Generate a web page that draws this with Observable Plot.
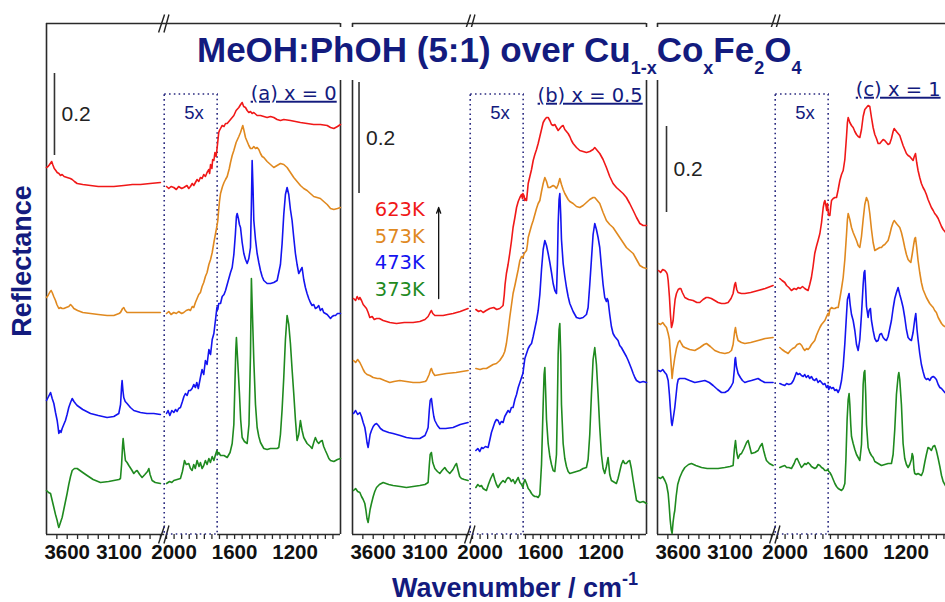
<!DOCTYPE html>
<html><head><meta charset="utf-8">
<script src="https://cdn.jsdelivr.net/npm/d3@7"></script>
<script src="https://cdn.jsdelivr.net/npm/@observablehq/plot@0.6"></script>
<style>
html,body{margin:0;padding:0;overflow:hidden;background:#fff;}
#page{position:relative;width:945px;height:602px;overflow:hidden;font-family:"Liberation Sans",Arial,sans-serif;}
.panel{position:absolute;top:0;}
#titlebg{position:absolute;left:195px;top:27px;width:615px;height:53px;background:#fff;}
#title{position:absolute;left:197px;top:32px;font:bold 35px/35px "Liberation Sans";color:#131b7e;white-space:nowrap;}
#title .sb{font-size:18px;position:relative;top:12px;}
#ylab{position:absolute;left:22px;top:261px;transform:translate(-50%,-50%) rotate(-90deg);font:bold 27px/27px "Liberation Sans";color:#131b7e;white-space:nowrap;}
#xlab{position:absolute;left:392px;top:575px;font:bold 27px/27px "Liberation Sans";color:#131b7e;white-space:nowrap;}
#xlab .sp{font-size:18px;position:relative;top:-12px;}
</style></head>
<body><div id="page"></div>
<script>
// ---------- data (wavenumber cm-1, relative reflectance a.u., offset traces) ----------
const temps = ["623K", "573K", "473K", "373K"];
const lineColors = ["#f01818", "#e0891f", "#1414f0", "#1f8a1f"];
const panelNames = ["(a) x = 0", "(b) x = 0.5", "(c) x = 1"];
const majorTicks = [3600, 3100, 2000, 1600, 1200];
const minorTicksLeft = [3700, 3600, 3500, 3400, 3300, 3200, 3100, 3000, 2900, 2800, 2700];
const minorTicksRight = [2050, 2000, 1950, 1900, 1850, 1800, 1750, 1700, 1650, 1600, 1550, 1500, 1450, 1400, 1350, 1300, 1250, 1200, 1150, 1100, 1050, 1000, 950];
const xBreakDomain = [3800, 2680, 2070, 900];
const zoomBox = [2062, 1712];   // "5x" region
const scaleBarWn = [3723, 3737, 3713];
const scaleBarLo = [379, 341, 322];
const scaleBarHi = [461, 452, 408];

// Panel (a) x = 0
const a623L = [[3800,367],[3785,368],[3770,370],[3750,373],[3740,370],[3725,366],[3710,364],[3697,362],[3680,361],[3665,359],[3649,360],[3630,358],[3601,357],[3570,356],[3552,355],[3530,353],[3504,351],[3450,350],[3375,349],[3300,348],[3215,348],[3150,348],[3054,349],[2970,350],[2893,350],[2800,351],[2700,352]];
const a623R = [[2050,348],[2035,346],[2020,348],[2002,347],[1985,345],[1970,348],[1950,346],[1936,347],[1915,349],[1903,346],[1892,348],[1880,351],[1870,349],[1859,352],[1848,355],[1837,353],[1826,357],[1815,356],[1804,360],[1793,358],[1782,362],[1770,365],[1765,361],[1759,370],[1750,366],[1745,375],[1737,374],[1730,382],[1722,378],[1716,386],[1711,393],[1705,402],[1700,404],[1693,406],[1682,409],[1670,408],[1660,411],[1649,411],[1627,415],[1605,419],[1590,424],[1572,427],[1560,430],[1550,432],[1540,428],[1528,427],[1517,424],[1506,422],[1495,423],[1484,421],[1473,422],[1451,419],[1429,419],[1407,418],[1385,417],[1363,418],[1341,417],[1319,415],[1297,414],[1275,415],[1231,414],[1198,413],[1165,412],[1121,411],[1077,410],[1033,410],[988,409],[966,407],[944,406],[920,408],[900,410]];
const a573L = [[3800,237],[3785,239],[3770,242],[3755,244],[3745,242],[3730,238],[3713,234],[3700,230],[3681,226],[3665,227],[3649,226],[3633,226],[3610,227],[3585,228],[3568,230],[3550,228],[3536,226],[3500,224],[3450,222],[3375,221],[3300,220],[3215,219],[3150,219],[3100,221],[3086,222],[3065,226],[3054,227],[3040,224],[3022,222],[2960,222],[2893,222],[2800,222],[2700,222]];
const a573R = [[2050,221],[2035,223],[2020,220],[2002,222],[1985,221],[1970,223],[1950,221],[1936,222],[1920,224],[1903,225],[1892,224],[1880,228],[1870,227],[1859,232],[1848,236],[1837,240],[1826,242],[1815,248],[1804,252],[1793,258],[1782,262],[1770,270],[1759,275],[1748,282],[1737,292],[1726,301],[1717,308],[1711,314],[1705,325],[1700,333],[1693,341],[1680,348],[1670,352],[1660,355],[1649,358],[1635,366],[1627,372],[1616,379],[1605,384],[1590,392],[1572,398],[1561,402],[1546,409],[1538,404],[1528,397],[1517,393],[1506,389],[1495,386],[1484,386],[1473,388],[1462,386],[1451,387],[1440,385],[1429,381],[1418,378],[1407,377],[1385,373],[1363,370],[1341,367],[1319,369],[1297,371],[1275,370],[1253,367],[1231,362],[1209,357],[1187,353],[1165,349],[1143,346],[1121,344],[1099,341],[1077,338],[1055,337],[1033,336],[1011,333],[988,330],[966,326],[944,325],[920,326],[900,327]];
const a473L = [[3800,134],[3780,138],[3761,142],[3745,136],[3729,131],[3713,122],[3697,114],[3689,108],[3681,101],[3670,104],[3660,102],[3649,106],[3633,110],[3617,114],[3601,120],[3585,127],[3568,132],[3552,136],[3535,133],[3520,131],[3504,129],[3450,125],[3375,121],[3300,119],[3215,117],[3150,118],[3102,121],[3085,130],[3075,148],[3070,154],[3062,144],[3054,137],[3040,133],[3022,131],[2990,127],[2957,124],[2925,123],[2893,122],[2830,121],[2764,121],[2700,120]];
const a473R = [[2050,121],[2040,124],[2028,119],[2015,124],[2002,122],[1990,125],[1980,123],[1970,126],[1958,127],[1945,133],[1935,138],[1925,141],[1914,139],[1903,144],[1892,144],[1881,146],[1870,150],[1859,147],[1850,152],[1840,146],[1826,157],[1815,165],[1804,160],[1793,174],[1782,170],[1770,185],[1759,180],[1748,195],[1737,201],[1726,215],[1717,227],[1711,225],[1705,231],[1693,231],[1682,238],[1670,240],[1660,244],[1649,250],[1638,256],[1627,262],[1616,267],[1605,280],[1595,300],[1588,318],[1583,321],[1575,316],[1568,310],[1561,307],[1550,292],[1539,281],[1528,275],[1517,271],[1506,276],[1495,287],[1489,330],[1484,374],[1478,345],[1473,314],[1462,295],[1451,281],[1440,272],[1429,264],[1418,258],[1407,254],[1385,251],[1363,251],[1341,252],[1319,254],[1297,270],[1286,291],[1275,320],[1264,340],[1253,347],[1242,340],[1231,325],[1220,314],[1209,297],[1198,281],[1187,270],[1176,261],[1165,264],[1154,267],[1143,255],[1132,247],[1121,241],[1110,236],[1099,232],[1088,229],[1077,230],[1066,226],[1055,227],[1044,229],[1033,224],[1021,226],[1011,222],[988,220],[977,218],[966,216],[955,218],[944,219],[933,219],[920,221],[900,221]];
const a373L = [[3800,44],[3780,42],[3761,41],[3745,34],[3729,27],[3713,20],[3697,14],[3689,10],[3681,7],[3665,12],[3649,17],[3633,25],[3617,33],[3601,41],[3585,50],[3568,58],[3552,64],[3530,66],[3504,66],[3450,62],[3408,59],[3350,55],[3279,52],[3200,53],[3150,54],[3100,55],[3086,56],[3075,70],[3066,88],[3060,96],[3050,85],[3038,74],[3022,72],[3005,69],[2980,65],[2957,61],[2940,63],[2925,64],[2900,60],[2877,57],[2850,60],[2825,63],[2812,66],[2800,60],[2780,54],[2750,52],[2700,51]];
const a373R = [[2050,51],[2030,53],[2015,52],[2002,54],[1980,55],[1958,56],[1945,63],[1931,74],[1920,70],[1903,71],[1892,66],[1881,64],[1870,70],[1860,66],[1848,74],[1835,68],[1826,72],[1815,66],[1804,69],[1793,74],[1782,70],[1770,76],[1760,72],[1748,78],[1737,74],[1726,80],[1717,84],[1711,80],[1705,82],[1693,79],[1670,79],[1649,77],[1630,82],[1616,91],[1605,110],[1598,150],[1592,185],[1588,197],[1580,175],[1568,141],[1560,115],[1550,97],[1535,93],[1517,91],[1505,110],[1495,180],[1489,256],[1482,220],[1473,174],[1462,130],[1451,107],[1440,98],[1429,92],[1407,86],[1385,85],[1363,86],[1341,86],[1319,86],[1308,87],[1297,100],[1286,125],[1275,157],[1264,195],[1253,219],[1242,210],[1231,191],[1220,165],[1209,141],[1198,115],[1187,94],[1176,100],[1165,114],[1154,104],[1143,97],[1132,94],[1121,91],[1099,88],[1088,86],[1077,92],[1066,97],[1055,93],[1044,91],[1033,93],[1021,94],[1011,88],[1000,84],[988,80],[977,76],[966,74],[944,73],[920,75],[900,76]];

// Panel (b) x = 0.5
const b623L = [[3790,236],[3770,234],[3755,238],[3740,235],[3729,237],[3713,234],[3697,230],[3681,228],[3665,226],[3649,222],[3633,217],[3610,218],[3590,215],[3568,216],[3540,216],[3504,214],[3440,212],[3375,211],[3300,212],[3215,212],[3150,213],[3100,215],[3070,218],[3050,222],[3038,224],[3025,221],[3005,219],[2960,219],[2925,219],[2880,220],[2829,221],[2760,223],[2684,226]];
const b623R = [[2028,225],[2010,223],[1995,224],[1980,222],[1960,224],[1936,226],[1910,227],[1890,225],[1870,226],[1855,228],[1848,229],[1840,240],[1835,250],[1826,261],[1815,270],[1804,281],[1793,293],[1782,307],[1770,317],[1759,327],[1748,333],[1737,337],[1726,340],[1720,336],[1717,341],[1710,339],[1704,334],[1698,336],[1693,334],[1687,343],[1682,351],[1671,358],[1660,365],[1649,374],[1638,380],[1627,385],[1616,391],[1605,398],[1594,405],[1583,412],[1572,415],[1561,417],[1550,417],[1539,414],[1528,410],[1517,409],[1506,410],[1495,407],[1484,404],[1473,406],[1462,408],[1451,409],[1440,405],[1429,403],[1418,401],[1407,398],[1396,394],[1385,391],[1363,387],[1341,384],[1319,383],[1297,382],[1275,383],[1253,385],[1242,387],[1231,385],[1220,383],[1209,381],[1187,375],[1165,367],[1143,358],[1121,351],[1099,347],[1077,344],[1055,341],[1033,337],[1011,331],[988,324],[966,317],[944,311],[922,309],[900,309]];
const b573L = [[3790,174],[3770,172],[3750,175],[3729,172],[3710,168],[3697,165],[3681,162],[3660,160],[3633,159],[3600,157],[3560,156],[3536,156],[3490,154],[3440,152],[3400,153],[3343,154],[3280,153],[3215,152],[3150,152],[3100,153],[3086,154],[3060,160],[3045,165],[3038,166],[3025,162],[3005,159],[2950,160],[2893,161],[2800,162],[2684,164]];
const b573R = [[2028,166],[2000,165],[1980,166],[1958,166],[1936,168],[1914,170],[1892,171],[1870,174],[1848,179],[1837,183],[1826,191],[1815,203],[1804,217],[1793,229],[1782,241],[1770,249],[1759,257],[1748,265],[1737,274],[1726,278],[1717,277],[1711,280],[1704,282],[1693,284],[1687,290],[1682,297],[1671,303],[1660,309],[1649,314],[1638,320],[1627,326],[1616,331],[1605,334],[1594,343],[1583,351],[1572,357],[1561,353],[1550,347],[1539,347],[1528,348],[1517,349],[1506,348],[1495,346],[1484,350],[1473,356],[1462,350],[1451,345],[1440,341],[1429,338],[1418,335],[1407,333],[1385,331],[1363,328],[1341,327],[1319,329],[1297,332],[1275,335],[1253,337],[1242,337],[1231,335],[1209,331],[1187,322],[1165,314],[1143,310],[1121,307],[1099,302],[1077,297],[1055,292],[1033,287],[1011,284],[988,281],[966,275],[944,269],[922,267],[900,266]];
const b473L = [[3790,121],[3770,124],[3750,120],[3729,122],[3713,118],[3697,112],[3681,107],[3670,100],[3660,92],[3649,87],[3640,93],[3630,100],[3617,104],[3600,108],[3585,110],[3568,111],[3550,109],[3530,106],[3504,104],[3450,102],[3408,101],[3340,99],[3279,97],[3215,96],[3150,96],[3100,99],[3080,104],[3070,107],[3058,125],[3050,134],[3038,136],[3025,125],[3015,118],[3005,114],[2980,109],[2957,106],[2900,106],[2829,107],[2760,110],[2684,112]];
const b473R = [[2028,84],[2015,86],[2002,83],[1990,87],[1980,86],[1965,88],[1947,87],[1935,95],[1925,102],[1914,107],[1903,112],[1892,115],[1881,114],[1870,110],[1860,113],[1848,112],[1837,118],[1826,121],[1815,124],[1804,122],[1793,127],[1782,127],[1770,135],[1759,140],[1748,147],[1737,152],[1726,157],[1717,161],[1711,168],[1704,176],[1693,181],[1682,186],[1671,189],[1660,191],[1649,198],[1638,206],[1627,214],[1616,224],[1605,240],[1594,265],[1583,285],[1572,294],[1561,289],[1550,281],[1539,272],[1528,262],[1517,251],[1506,244],[1495,241],[1489,270],[1484,310],[1478,335],[1473,341],[1467,320],[1462,295],[1451,271],[1440,258],[1429,247],[1418,238],[1407,231],[1385,223],[1363,217],[1341,216],[1319,217],[1297,220],[1286,227],[1275,250],[1264,275],[1253,300],[1242,311],[1231,305],[1220,297],[1209,287],[1198,268],[1187,250],[1176,237],[1165,233],[1160,236],[1154,234],[1143,220],[1132,208],[1121,201],[1110,198],[1099,196],[1088,194],[1077,189],[1066,187],[1055,184],[1044,181],[1033,178],[1021,174],[1000,166],[988,161],[977,157],[966,154],[944,152],[922,153],[900,152]];
const b373L = [[3790,44],[3770,46],[3750,43],[3729,42],[3713,38],[3697,35],[3681,31],[3670,24],[3660,16],[3649,12],[3640,18],[3630,25],[3617,31],[3600,38],[3585,43],[3568,47],[3540,50],[3504,52],[3450,50],[3408,49],[3340,48],[3279,47],[3215,48],[3150,49],[3100,50],[3070,52],[3058,70],[3050,80],[3038,82],[3025,72],[3005,66],[2980,63],[2957,61],[2935,64],[2909,67],[2890,64],[2861,61],[2830,65],[2810,69],[2796,71],[2780,64],[2765,58],[2748,56],[2720,55],[2684,54]];
const b373R = [[2028,47],[2015,50],[2002,48],[1991,49],[1980,46],[1970,45],[1958,44],[1945,50],[1930,56],[1914,61],[1903,55],[1892,50],[1881,47],[1870,50],[1860,52],[1848,54],[1835,52],[1826,55],[1815,57],[1804,56],[1793,53],[1782,55],[1770,51],[1759,54],[1748,57],[1737,52],[1726,50],[1717,47],[1711,52],[1704,55],[1693,51],[1682,46],[1671,44],[1660,41],[1649,39],[1638,38],[1627,38],[1616,37],[1605,40],[1594,70],[1583,130],[1577,160],[1572,167],[1566,140],[1561,115],[1550,91],[1539,78],[1528,70],[1517,64],[1506,63],[1495,80],[1489,130],[1484,180],[1478,205],[1473,211],[1467,180],[1462,130],[1451,91],[1440,76],[1429,68],[1418,63],[1407,61],[1385,62],[1363,63],[1341,64],[1319,66],[1297,67],[1286,75],[1275,100],[1264,140],[1253,175],[1242,187],[1231,170],[1220,140],[1209,107],[1198,80],[1187,66],[1176,61],[1165,68],[1154,77],[1148,68],[1143,60],[1132,54],[1121,53],[1110,52],[1099,51],[1088,56],[1077,63],[1066,70],[1055,74],[1044,71],[1033,71],[1022,73],[1011,74],[1000,66],[988,54],[977,44],[966,34],[944,32],[922,33],[900,31]];

// Panel (c) x = 1
const c623L = [[3790,264],[3770,262],[3750,265],[3729,264],[3713,262],[3705,260],[3697,254],[3685,238],[3675,220],[3665,207],[3657,210],[3649,214],[3640,225],[3630,235],[3617,241],[3600,245],[3585,246],[3575,246],[3560,242],[3536,237],[3500,235],[3456,234],[3420,232],[3392,232],[3360,235],[3330,237],[3311,237],[3280,236],[3247,234],[3215,232],[3182,231],[3150,231],[3118,232],[3090,236],[3070,241],[3055,250],[3047,252],[3035,245],[3022,242],[2990,241],[2957,241],[2900,242],[2829,244],[2760,246],[2684,249]];
const c623R = [[2035,256],[2020,254],[2002,252],[1990,249],[1975,247],[1958,244],[1940,246],[1925,245],[1914,247],[1900,246],[1885,248],[1870,246],[1860,245],[1848,244],[1837,250],[1826,257],[1815,268],[1804,281],[1793,288],[1782,294],[1770,301],[1759,312],[1748,327],[1742,332],[1737,334],[1730,329],[1725,324],[1720,331],[1715,322],[1710,319],[1704,319],[1698,328],[1693,334],[1682,336],[1671,337],[1660,337],[1649,345],[1638,354],[1627,360],[1616,364],[1605,375],[1594,398],[1588,412],[1583,417],[1572,412],[1561,409],[1550,407],[1539,403],[1528,400],[1517,398],[1506,397],[1495,405],[1484,418],[1473,425],[1462,427],[1451,429],[1440,428],[1429,417],[1418,407],[1407,400],[1396,396],[1385,391],[1374,391],[1363,393],[1352,395],[1341,394],[1330,392],[1319,390],[1308,391],[1297,396],[1286,403],[1279,406],[1264,403],[1253,401],[1242,399],[1231,394],[1220,389],[1209,385],[1198,381],[1187,379],[1176,378],[1165,376],[1154,374],[1146,378],[1138,381],[1130,372],[1121,364],[1110,357],[1099,351],[1088,347],[1077,344],[1066,340],[1055,335],[1044,331],[1033,327],[1021,324],[1011,321],[1000,319],[988,316],[977,312],[966,308],[955,305],[944,303],[933,301]];
const c573L = [[3790,211],[3770,210],[3750,212],[3729,209],[3713,207],[3697,201],[3685,195],[3675,180],[3665,165],[3659,156],[3650,165],[3640,172],[3633,177],[3617,186],[3600,192],[3585,194],[3570,191],[3553,188],[3536,187],[3490,185],[3440,184],[3390,187],[3350,190],[3327,191],[3290,188],[3247,184],[3200,182],[3150,181],[3110,182],[3086,184],[3070,190],[3055,203],[3047,207],[3035,199],[3022,194],[2990,192],[2957,191],[2900,192],[2829,194],[2760,196],[2684,197]];
const c573R = [[2035,187],[2020,185],[2002,183],[1990,182],[1980,181],[1965,184],[1950,186],[1936,187],[1920,190],[1903,191],[1890,189],[1880,186],[1870,184],[1858,186],[1848,185],[1837,187],[1826,190],[1815,192],[1804,194],[1793,199],[1782,203],[1770,207],[1759,210],[1748,212],[1737,214],[1726,218],[1717,221],[1711,219],[1704,225],[1693,227],[1682,226],[1671,226],[1660,227],[1649,227],[1638,236],[1627,246],[1616,257],[1605,275],[1594,300],[1588,315],[1583,321],[1572,315],[1561,307],[1550,302],[1539,298],[1528,294],[1517,289],[1506,287],[1495,298],[1484,315],[1473,330],[1462,337],[1451,333],[1440,321],[1429,305],[1418,292],[1407,284],[1396,285],[1385,286],[1374,287],[1363,287],[1352,289],[1341,290],[1330,292],[1319,294],[1308,300],[1297,307],[1286,312],[1279,314],[1264,311],[1253,309],[1242,307],[1231,302],[1220,295],[1209,287],[1198,280],[1187,275],[1176,273],[1169,272],[1160,280],[1150,290],[1143,296],[1138,297],[1130,287],[1121,274],[1110,262],[1099,252],[1088,245],[1077,241],[1066,237],[1055,234],[1044,231],[1033,229],[1021,227],[1011,224],[1000,222],[988,217],[977,214],[966,211],[955,209],[944,208],[933,207]];
const c473L = [[3790,164],[3770,163],[3750,165],[3729,162],[3713,160],[3697,154],[3685,140],[3675,125],[3665,112],[3659,109],[3650,115],[3640,122],[3633,127],[3620,140],[3610,150],[3600,155],[3585,156],[3560,156],[3536,156],[3490,154],[3440,152],[3390,153],[3343,154],[3300,152],[3263,149],[3220,145],[3182,142],[3150,142],[3118,144],[3090,148],[3070,152],[3058,165],[3052,175],[3047,177],[3038,168],[3022,161],[3000,157],[2980,154],[2957,152],[2930,153],[2893,154],[2860,155],[2829,156],[2800,154],[2764,152],[2720,152],[2684,152]];
const c473R = [[2035,151],[2020,150],[2002,149],[1990,151],[1975,150],[1958,151],[1945,154],[1935,158],[1925,162],[1915,160],[1903,161],[1892,159],[1880,158],[1870,160],[1860,157],[1848,159],[1837,156],[1826,158],[1815,155],[1804,154],[1793,156],[1782,152],[1770,154],[1759,152],[1748,150],[1737,151],[1726,147],[1717,149],[1711,145],[1704,148],[1693,146],[1682,147],[1671,144],[1660,145],[1649,142],[1638,146],[1627,154],[1616,168],[1605,191],[1594,220],[1588,235],[1577,241],[1570,230],[1561,220],[1550,214],[1539,204],[1528,190],[1517,184],[1506,195],[1495,220],[1484,250],[1478,262],[1473,264],[1467,245],[1462,228],[1451,217],[1445,224],[1436,226],[1429,214],[1418,204],[1407,196],[1396,193],[1385,194],[1374,200],[1363,201],[1352,197],[1341,195],[1330,194],[1319,198],[1308,206],[1297,214],[1286,226],[1275,236],[1264,242],[1253,247],[1242,240],[1231,234],[1220,227],[1209,217],[1198,205],[1187,197],[1176,195],[1165,194],[1154,202],[1143,215],[1136,221],[1128,205],[1121,195],[1110,181],[1099,170],[1088,163],[1077,157],[1066,155],[1055,156],[1044,154],[1033,157],[1021,158],[1011,157],[1000,155],[988,150],[977,147],[966,146],[955,144],[944,142],[933,141]];
const c373L = [[3790,57],[3770,56],[3750,58],[3729,54],[3713,50],[3697,41],[3688,30],[3678,15],[3668,5],[3659,1],[3650,12],[3640,20],[3633,24],[3620,38],[3605,50],[3585,57],[3560,63],[3536,67],[3500,70],[3472,71],[3430,69],[3375,67],[3320,66],[3279,66],[3215,66],[3150,67],[3100,68],[3070,69],[3058,85],[3047,94],[3035,82],[3022,76],[3005,80],[2989,81],[2965,86],[2940,92],[2925,94],[2910,88],[2893,81],[2860,82],[2829,84],[2810,88],[2790,91],[2775,84],[2760,78],[2748,74],[2720,71],[2684,69]];
const c373R = [[2035,67],[2020,68],[2002,69],[1990,67],[1975,67],[1958,66],[1940,71],[1930,75],[1920,76],[1905,71],[1892,67],[1880,69],[1870,71],[1860,70],[1848,72],[1835,70],[1826,68],[1815,67],[1804,66],[1793,67],[1782,70],[1770,69],[1759,67],[1748,66],[1737,64],[1726,64],[1717,65],[1711,63],[1704,62],[1693,59],[1682,55],[1671,51],[1660,48],[1649,46],[1638,45],[1627,44],[1616,46],[1605,51],[1598,75],[1590,115],[1583,135],[1577,141],[1572,130],[1566,110],[1561,98],[1550,91],[1539,85],[1528,80],[1517,77],[1506,74],[1495,90],[1489,120],[1484,150],[1478,162],[1473,164],[1467,140],[1462,110],[1451,87],[1440,82],[1429,79],[1418,77],[1407,73],[1385,71],[1363,69],[1341,70],[1319,71],[1297,71],[1286,80],[1275,105],[1264,140],[1253,158],[1248,162],[1242,155],[1231,130],[1220,91],[1209,76],[1198,70],[1187,67],[1176,70],[1165,75],[1160,81],[1154,78],[1148,65],[1143,61],[1132,60],[1121,61],[1110,60],[1099,59],[1088,63],[1077,72],[1066,80],[1055,87],[1044,86],[1033,84],[1022,88],[1011,89],[1000,84],[988,76],[977,68],[966,59],[955,53],[944,50],[933,47]];

const panelSeries = [
  [[a623L, a623R], [a573L, a573R], [a473L, a473R], [a373L, a373R]],
  [[b623L, b623R], [b573L, b573R], [b473L, b473R], [b373L, b373R]],
  [[c623L, c623R], [c573L, c573R], [c473L, c473R], [c373L, c373R]]
];

// ---------- layout ----------
const navy = "#131b7e";
const panelLeft = [46, 352, 657];
const PW = 294, ML = 12;
const frameColor = "#2a2a2a";
// broken wavenumber axis: maps cm-1 to a continuous display coordinate (0..294)
function breakAxis(w) {
  const [a, b, c, d] = xBreakDomain;
  if (w >= b) return (a - w) * 116 / (a - b);
  if (w >= c) return 116 + (b - w) / (b - c);
  return 117 + (c - w) * 177 / (c - d);
}
// axis-break "//" strokes, at the top and bottom of the frame
const breakSlashes = [0, 511].flatMap(y0 => [
  {x1: 2718, x2: 2063, y1: y0 - 9, y2: y0 + 9},
  {x1: 2067, x2: 2034, y1: y0 - 9, y2: y0 + 9}
]);
const labelAnchorWn = [925, 925, 972];

function panel(i) {
  const rows = [];
  panelSeries[i].forEach((pair, k) => {
    pair.forEach((seg, s) => seg.forEach(([wn, v]) => rows.push({wn, v, temp: temps[k], key: temps[k] + s})));
  });
  const marks = [
    Plot.ruleX([xBreakDomain[0], xBreakDomain[3]], {y1: 0, y2: 511, stroke: frameColor, strokeWidth: 1.6}),
    Plot.ruleY([511], {x1: xBreakDomain[0], x2: xBreakDomain[3], stroke: frameColor, strokeWidth: 1.6}),
    Plot.ruleY([0], {x1: xBreakDomain[0], x2: zoomBox[0], stroke: frameColor, strokeWidth: 1.6}),
    Plot.ruleY([0], {x1: zoomBox[1], x2: xBreakDomain[3], stroke: frameColor, strokeWidth: 1.6}),
    Plot.ruleX(minorTicksLeft.concat(minorTicksRight), {y1: 0, y2: -5, stroke: frameColor, strokeWidth: 1.3}),
    Plot.text(majorTicks, {x: d => d, frameAnchor: "bottom", dy: 24, text: d => String(d), fontSize: 20.5, fontWeight: "bold", fontFamily: "Liberation Sans", fill: "#111"}),
    Plot.link(breakSlashes, {x1: "x1", x2: "x2", y1: "y1", y2: "y2", stroke: "#222", strokeWidth: 1.4}),
    Plot.rect([{x1: zoomBox[0], x2: zoomBox[1], y1: 0, y2: 440}], {x1: "x1", x2: "x2", y1: "y1", y2: "y2", fill: "none", stroke: "#2b2b80", strokeWidth: 1.6, strokeDasharray: "1.6,3.2"}),
    Plot.text(["5x"], {x: () => 1868, y: () => 421, text: d => d, fontSize: 18.5, fontFamily: "Liberation Sans", fill: navy}),
    Plot.ruleX([scaleBarWn[i]], {y1: scaleBarLo[i], y2: scaleBarHi[i], stroke: "#333", strokeWidth: 1.6}),
    Plot.text(["0.2"], {x: () => scaleBarWn[i], y: () => (scaleBarLo[i] + scaleBarHi[i]) / 2, dx: 7, textAnchor: "start", text: d => d, fontSize: 21, fontFamily: "Liberation Sans", fill: "#222"}),
    Plot.text([panelNames[i]], {x: () => labelAnchorWn[i], y: () => [441, 439, 445][i], textAnchor: "end", text: d => d, fontSize: 19.5, fontFamily: "DejaVu Sans", fill: navy}),
    Plot.line(rows, {x: "wn", y: "v", z: "key", stroke: "temp", strokeWidth: 1.6, curve: "linear"})
  ];
  if (i === 1) {
    const legendY = [325, 298, 272, 245];
    marks.push(Plot.text(temps.map((t, k) => ({t, y: legendY[k]})), {x: () => 3585, y: "y", text: "t", fill: "t", textAnchor: "start", fontSize: 19.5, fontFamily: "DejaVu Sans"}));
    marks.push(Plot.arrow([{x1: 2968, y1: 236, x2: 2968, y2: 327}], {x1: "x1", y1: "y1", x2: "x2", y2: "y2", stroke: "#111", strokeWidth: 1.3, headLength: 7, headAngle: 40}));
  }
  const svg = Plot.plot({
    width: PW + ML + 14, height: 602,
    marginLeft: ML, marginRight: 14, marginTop: 23, marginBottom: 68,
    x: {type: "linear", transform: breakAxis, domain: [0, PW], range: [ML, ML + PW], label: null, axis: null},
    y: {domain: [0, 511], axis: null, label: null},
    color: {domain: temps, range: lineColors},
    style: {background: "transparent", maxWidth: "none", overflow: "visible", fontFamily: "Liberation Sans"},
    marks
  });
  d3.select(svg).selectAll("text").filter(function () { return this.textContent.startsWith("("); })
    .style("text-decoration", "underline");
  svg.classList.add("panel");
  svg.style.position = "absolute";
  svg.style.left = (panelLeft[i] - ML) + "px";
  svg.style.top = "0px";
  return svg;
}

const page = document.getElementById("page");
[0, 1, 2].forEach(i => page.appendChild(panel(i)));
page.insertAdjacentHTML("beforeend",
  '<div id="titlebg"></div>' +
  '<div id="title">MeOH:PhOH (5:1) over Cu<span class="sb">1-x</span>Co<span class="sb">x</span>Fe<span class="sb">2</span>O<span class="sb">4</span></div>' +
  '<div id="ylab">Reflectance</div>' +
  '<div id="xlab">Wavenumber / cm<span class="sp">-1</span></div>');
</script>
</body></html>
